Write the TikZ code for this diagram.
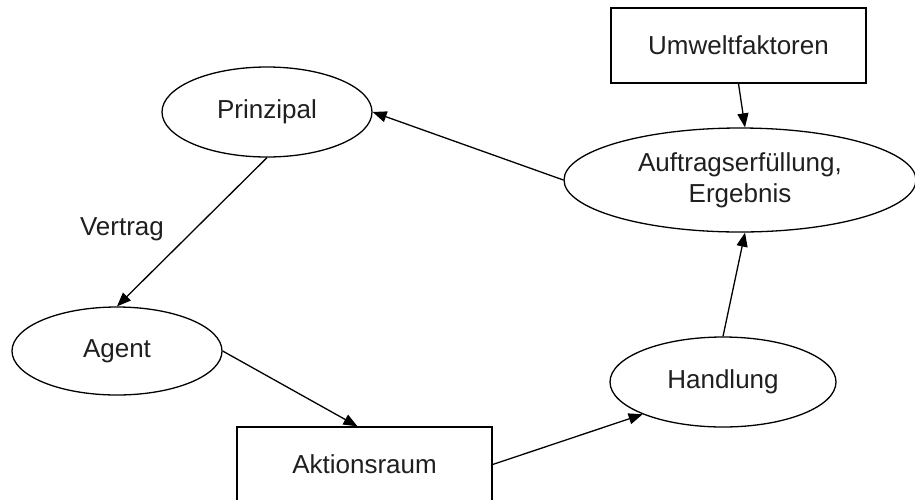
\documentclass[tikz,border=0pt]{standalone}
\usepackage{fontspec}
\setmainfont{Liberation Sans}
\usetikzlibrary{arrows.meta,shapes.geometric}
\begin{document}
\begin{tikzpicture}[x=1pt,y=-1pt,
  every node/.style={font=\fontsize{26}{31}\selectfont, text=black!88},
  oval/.style={draw=black, line width=1.3pt, ellipse, inner sep=0pt, fill=white},
  boxnode/.style={draw=black, line width=1.3pt, rectangle, inner sep=0pt, fill=white, minimum width=255pt, minimum height=75pt},
  conn/.style={draw=black, line width=1.3pt, -{Triangle[length=14pt,width=11pt]}}]
\useasboundingbox (0,0) rectangle (915,499);
\clip (0,0) rectangle (915,499);
\fill[white] (0,0) rectangle (915,499);
\node[boxnode] (umw) at (738.5,45.5) {Umweltfaktoren};
\node[oval, minimum width=210pt, minimum height=90pt] (prin) at (267,112) {Prinzipal};
\node[oval, minimum width=352pt, minimum height=104pt, align=center] (auf) at (740,180) {Auftragserfüllung,\\Ergebnis};
\node[oval, minimum width=210pt, minimum height=88pt] (agent) at (117,351) {Agent};
\node[oval, minimum width=226pt, minimum height=90pt] (hand) at (723,382) {Handlung};
\node[boxnode] (akt) at (364.5,464.5) {Aktionsraum};
\node[anchor=base] (vertrag) at (122,235) {Vertrag};
\draw[conn] (prin.south) -- (agent.north);
\draw[conn] (agent.east) -- ([xshift=-7pt]akt.north);
\draw[conn] (akt.east) -- (hand.south west);
\draw[conn] (hand.north) -- ([xshift=5pt]auf.south);
\draw[conn] (auf.west) -- (prin.east);
\draw[conn] (umw.south) -- ([xshift=5pt]auf.north);
\end{tikzpicture}
\end{document}
